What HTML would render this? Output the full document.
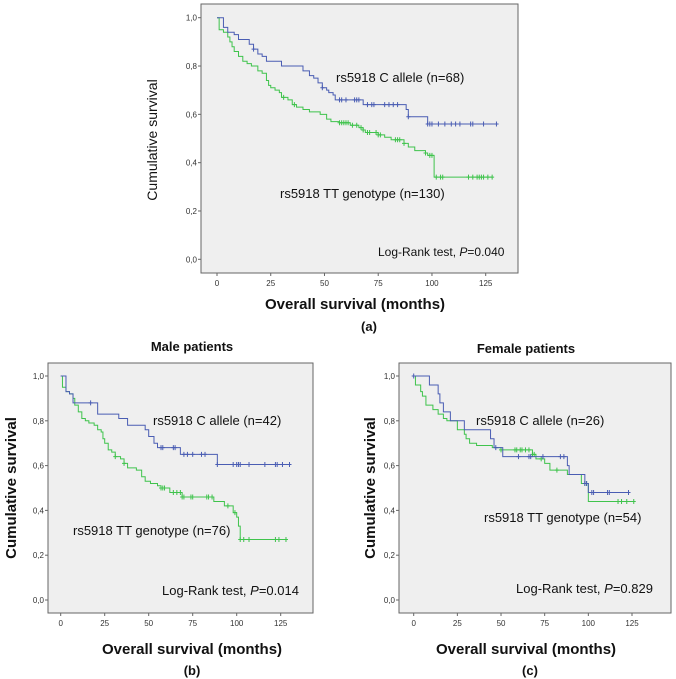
<!DOCTYPE html>
<html><head><meta charset="utf-8">
<style>
body{margin:0;background:#fff;}
svg{display:block;font-family:"Liberation Sans",sans-serif;}
</style></head>
<body>
<svg id="fig" width="676" height="679" viewBox="0 0 676 679"></svg>
<script>
// ----- data -----
const xTicks = [0,25,50,75,100,125];
const yTicks = [0,0.2,0.4,0.6,0.8,1.0];
const yTickLabels = ["0,0","0,2","0,4","0,6","0,8","1,0"];

// Panel a
const aBlueT = [0,3,5,8,10,15,17,19,21,23,30,40,43,45,47,49,51,52,54,55,68,88,89,98,131];
const aBlueS = [1.0,0.96,0.94,0.93,0.91,0.89,0.87,0.85,0.84,0.82,0.80,0.78,0.76,0.75,0.73,0.71,0.70,0.69,0.68,0.66,0.64,0.62,0.59,0.56,0.56];
const aBlueCens = [17,49,57,58,60,64,65,66,70,72,73,78,80,82,84,89,98,99,100,103,106,109,111,113,118,119,124,130];
const aGreenT = [0,1,3,5,6,7,8,10,12,14,16,19,21,23,24,25,27,29,30,33,35,37,40,43,48,51,53,57,62,66,68,69,75,78,81,87,89,92,97,98,101,128];
const aGreenS = [1.0,0.95,0.94,0.92,0.90,0.88,0.86,0.84,0.82,0.81,0.80,0.78,0.77,0.74,0.72,0.71,0.70,0.69,0.67,0.66,0.64,0.63,0.62,0.61,0.60,0.58,0.57,0.565,0.555,0.545,0.535,0.525,0.515,0.505,0.495,0.48,0.465,0.45,0.44,0.43,0.34,0.34];
const aGreenCens = [31,36,57,58,59,60,61,63,65,67,68,70,71,74,75,76,83,84,85,87,97,99,100,102,104,105,117,119,121,122,123,124,126,128];

// Panel b (male)
const bBlueT = [0,3,5,7,21,33,38,48,50,53,55,68,89,130];
const bBlueS = [1.0,0.93,0.92,0.88,0.83,0.81,0.78,0.76,0.73,0.70,0.68,0.65,0.605,0.605];
const bBlueCens = [17,57,58,64,65,70,72,75,80,82,89,98,100,101,102,107,116,122,123,126,130];
const bGreenT = [0,1,3,5,7,8,10,12,14,16,19,21,23,24,25,27,29,31,34,36,38,43,46,48,51,55,57,62,69,87,93,98,100,101,102,128];
const bGreenS = [1.0,0.95,0.93,0.92,0.90,0.87,0.84,0.81,0.80,0.79,0.78,0.76,0.75,0.72,0.70,0.67,0.66,0.64,0.63,0.61,0.59,0.58,0.55,0.53,0.52,0.51,0.50,0.48,0.46,0.44,0.42,0.39,0.37,0.33,0.27,0.27];
const bGreenCens = [31,36,57,58,59,64,66,68,69,70,74,75,83,84,86,95,99,102,104,107,122,124,128];

// Panel c (female)
const cBlueT = [0,9,14,15,17,21,29,44,46,51,88,89,98,100,123];
const cBlueS = [1.0,0.96,0.92,0.88,0.84,0.80,0.76,0.72,0.68,0.64,0.60,0.56,0.52,0.48,0.48];
const cBlueCens = [0,47,60,66,67,74,84,86,98,99,102,103,111,112,123];
const cGreenT = [0,1,4,5,7,11,14,17,19,25,29,30,32,36,45,50,68,70,75,78,88,96,100,126];
const cGreenS = [1.0,0.96,0.93,0.91,0.87,0.85,0.83,0.81,0.80,0.76,0.74,0.72,0.70,0.69,0.68,0.67,0.65,0.63,0.61,0.58,0.56,0.52,0.44,0.44];
const cGreenCens = [50,58,59,61,62,64,66,68,69,73,82,98,99,117,119,122,126];

const BLUE = "#4a5db3", GREEN = "#3fc34c";
const NS = "http://www.w3.org/2000/svg";
const svg = document.getElementById("fig");

function mk(tag, attrs, parent, text){
  const e = document.createElementNS(NS, tag);
  for (const k in attrs) e.setAttribute(k, attrs[k]);
  if (text !== undefined) e.textContent = text;
  (parent||svg).appendChild(e);
  return e;
}

function stepAt(T,S,t){ let v=S[0]; for(let i=0;i<T.length;i++){ if(T[i]<=t) v=S[i]; } return v; }

function panel(p){
  const g = mk("g",{});
  
  
  const sx = t => p.x0 + (t/125)*(p.x125-p.x0);
  const sy = v => p.y0 + v*(p.y1-p.y0);
  const box = mk("rect",{x:p.bx,y:p.by,width:p.bw,height:p.bh,fill:"#efefef",stroke:"#666","stroke-width":1},g);
  
  
  xTicks.forEach(t=>{
    const x=sx(t);
    mk("line",{x1:x,x2:x,y1:p.by+p.bh,y2:p.by+p.bh+3,stroke:"#666"},g);
    const l=mk("text",{x:x,y:p.by+p.bh+13,"font-size":8,"text-anchor":"middle",fill:"#333"},g,String(t));
    
    
  });
  yTicks.forEach((v,i)=>{
    const y=sy(v);
    mk("line",{x1:p.bx-3,x2:p.bx,y1:y,y2:y,stroke:"#666"},g);
    const l=mk("text",{x:p.bx-4,y:y+3,"font-size":8,"text-anchor":"end",fill:"#333"},g,yTickLabels[i]);
    
    
  });
  function series(T,S,C,color,nm){
    let d="M"+sx(T[0])+","+sy(S[0]);
    for(let i=1;i<T.length;i++){ d+=" H"+sx(T[i])+" V"+sy(S[i]); }
    const path=mk("path",{d:d,fill:"none",stroke:color,"stroke-width":1},g);
    
    
    C.forEach(t=>{
      const x=sx(t), y=sy(stepAt(T,S,t));
      const c=mk("path",{d:`M${x-2},${y}H${x+2}M${x},${y-2.5}V${y+2.5}`,stroke:color,"stroke-width":1},g);
      
      
    });
  }
  series(p.gT,p.gS,p.gC,GREEN,"tt-genotype");
  series(p.bT,p.bS,p.bC,BLUE,"c-allele");
  p.texts.forEach(tx=>{
    const e=mk("text",{x:tx.x,y:tx.y,"font-size":tx.fs,"text-anchor":tx.a||"start","font-weight":tx.b?"bold":"normal",fill:"#111",transform:tx.rot?`rotate(-90 ${tx.x} ${tx.y})`:""},g);
    
    
    if(tx.html){ e.innerHTML = tx.html; } else e.textContent = tx.t;
  });
}

panel({name:"panel-a",bx:201,by:4,bw:317,bh:269,x0:217,x125:485.7,y0:259.3,y1:17.7,
  bT:aBlueT,bS:aBlueS,bC:aBlueCens,gT:aGreenT,gS:aGreenS,gC:aGreenCens,
  texts:[
   {x:336,y:82,fs:13,t:"rs5918 C allele (n=68)",n:"c-allele-label"},
   {x:280,y:198,fs:13,t:"rs5918 TT genotype (n=130)",n:"tt-genotype-label"},
   {x:378,y:256,fs:12,html:'Log-Rank test, <tspan font-style="italic">P</tspan>=0.040',n:"log-rank-label"},
   {x:355,y:309,fs:15,b:1,a:"middle",t:"Overall survival (months)",n:"x-axis-title"},
   {x:369,y:331,fs:13,b:1,a:"middle",t:"(a)",n:"panel-a-caption"},
   {x:157,y:140,fs:14,a:"middle",rot:1,t:"Cumulative survival",n:"y-axis-title"}
  ]});

panel({name:"panel-b",bx:48,by:363,bw:265,bh:250,x0:60.7,x125:280.7,y0:600,y1:376,
  bT:bBlueT,bS:bBlueS,bC:bBlueCens,gT:bGreenT,gS:bGreenS,gC:bGreenCens,
  texts:[
   {x:192,y:351,fs:13,b:1,a:"middle",t:"Male patients",n:"panel-b-title"},
   {x:153,y:425,fs:13,t:"rs5918 C allele (n=42)",n:"c-allele-label"},
   {x:73,y:535,fs:13,t:"rs5918 TT genotype (n=76)",n:"tt-genotype-label"},
   {x:162,y:595,fs:13,html:'Log-Rank test, <tspan font-style="italic">P</tspan>=0.014',n:"log-rank-label"},
   {x:192,y:654,fs:15,b:1,a:"middle",t:"Overall survival (months)",n:"x-axis-title"},
   {x:192,y:675,fs:13,b:1,a:"middle",t:"(b)",n:"panel-b-caption"},
   {x:16,y:488,fs:15,b:1,a:"middle",rot:1,t:"Cumulative survival",n:"y-axis-title"}
  ]});

panel({name:"panel-c",bx:399,by:363,bw:272,bh:250,x0:413.7,x125:632,y0:600,y1:376,
  bT:cBlueT,bS:cBlueS,bC:cBlueCens,gT:cGreenT,gS:cGreenS,gC:cGreenCens,
  texts:[
   {x:526,y:353,fs:13,b:1,a:"middle",t:"Female patients",n:"panel-c-title"},
   {x:476,y:425,fs:13,t:"rs5918 C allele (n=26)",n:"c-allele-label"},
   {x:484,y:522,fs:13,t:"rs5918 TT genotype (n=54)",n:"tt-genotype-label"},
   {x:516,y:593,fs:13,html:'Log-Rank test, <tspan font-style="italic">P</tspan>=0.829',n:"log-rank-label"},
   {x:526,y:654,fs:15,b:1,a:"middle",t:"Overall survival (months)",n:"x-axis-title"},
   {x:530,y:675,fs:13,b:1,a:"middle",t:"(c)",n:"panel-c-caption"},
   {x:375,y:488,fs:15,b:1,a:"middle",rot:1,t:"Cumulative survival",n:"y-axis-title"}
  ]});
</script>
</body></html>
